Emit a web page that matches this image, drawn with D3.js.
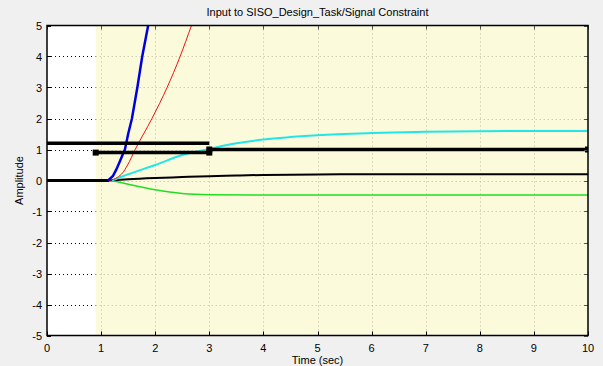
<!DOCTYPE html>
<html>
<head>
<meta charset="utf-8">
<script src="https://cdn.jsdelivr.net/npm/d3@7.9.0/dist/d3.min.js"></script>
<style>
  body { margin: 0; background: #f0f0f0; }
  svg { display: block; font-family: "Liberation Sans", Arial, sans-serif; }
</style>
</head>
<body>
<svg id="chart" width="603" height="366"></svg>
<script>
// data
const xTicks = [0, 1, 2, 3, 4, 5, 6, 7, 8, 9, 10];
const yTicks = [-5, -4, -3, -2, -1, 0, 1, 2, 3, 4, 5];

const blueT = [1.13, 1.22, 1.28, 1.33, 1.39, 1.44, 1.5, 1.57, 1.67, 1.76, 1.87];
const blueY = [0, 0.15, 0.35, 0.55, 0.8, 1, 1.5, 2, 3, 4, 5];

const redT = [1.15, 1.3, 1.4, 1.49, 1.63, 1.94, 2.22, 2.46, 2.67];
const redY = [0, 0.1, 0.25, 0.5, 1, 2, 3, 4, 5];

const cyanT = [1.2, 1.5, 2, 2.5, 3, 3.5, 4, 5, 6, 7, 8, 10];
const cyanY = [0, 0.2, 0.5, 0.82, 1.02, 1.2, 1.32, 1.46, 1.53, 1.57, 1.59, 1.6];

const greenT = [1.2, 1.5, 2, 2.5, 3, 4, 10];
const greenY = [0, -0.12, -0.3, -0.42, -0.46, -0.47, -0.47];

const blackT = [1.15, 1.5, 2, 2.5, 3, 3.5, 4, 5, 6, 10];
const blackY = [0, 0.04, 0.08, 0.11, 0.14, 0.16, 0.18, 0.195, 0.2, 0.2];

const upperBoundT = [0, 3];
const upperBoundY = [1.2, 1.2];
const lowerBoundT = [[0.9, 3], [3, 10]];
const lowerBoundY = [[0.9, 0.9], [1, 1]];
const regionStart = 0.9;

const svg = d3.select('#chart');
const m = { left: 47, right: 588, top: 25.5, bottom: 335.5 };
const x = d3.scaleLinear().domain([0, 10]).range([m.left, m.right]);
const y = d3.scaleLinear().domain([-5, 5]).range([m.bottom, m.top]);

// backgrounds
svg.append('rect').attr('x', m.left).attr('y', m.top)
  .attr('width', m.right - m.left).attr('height', m.bottom - m.top).attr('fill', '#ffffff');

// dark grid in white part
yTicks.slice(1, -1).forEach(v => {
  svg.append('line').attr('x1', x(0)).attr('x2', x(regionStart))
    .attr('y1', Math.round(y(v)) + 0.5).attr('y2', Math.round(y(v)) + 0.5)
    .attr('stroke', '#000').attr('stroke-width', 1).attr('stroke-dasharray', '1,3');
});

svg.append('rect').attr('x', x(regionStart)).attr('y', m.top)
  .attr('width', x(10) - x(regionStart)).attr('height', m.bottom - m.top).attr('fill', '#fbfbdc');

// light grid in constraint region
xTicks.slice(1, -1).forEach(v => {
  svg.append('line').attr('x1', Math.round(x(v)) + 0.5).attr('x2', Math.round(x(v)) + 0.5)
    .attr('y1', m.top).attr('y2', m.bottom)
    .attr('stroke', '#bdbd9c').attr('stroke-width', 1).attr('stroke-dasharray', '1,3');
});
yTicks.slice(1, -1).forEach(v => {
  svg.append('line').attr('x1', x(regionStart)).attr('x2', x(10))
    .attr('y1', Math.round(y(v)) + 0.5).attr('y2', Math.round(y(v)) + 0.5)
    .attr('stroke', '#bdbd9c').attr('stroke-width', 1).attr('stroke-dasharray', '1,3');
});

const clip = svg.append('clipPath').attr('id', 'clip').append('rect')
  .attr('x', m.left).attr('y', m.top).attr('width', m.right - m.left).attr('height', m.bottom - m.top);
const plot = svg.append('g').attr('clip-path', 'url(#clip)');

const line = d3.line().x(d => x(d[0])).y(d => y(d[1])).curve(d3.curveMonotoneX);
const zip = (a, b) => a.map((t, i) => [t, b[i]]);

function drawLine(ts, ys, color, w, curve) {
  plot.append('path').datum(zip(ts, ys))
    .attr('d', curve === false ? d3.line().x(d => x(d[0])).y(d => y(d[1]))(zip(ts, ys)) : line(zip(ts, ys)))
    .attr('fill', 'none').attr('stroke', color).attr('stroke-width', w)
    .attr('stroke-linejoin', 'round');
}

// baseline before response
drawLine([0, blackT[0]], [0, 0], '#000', 3, false);
drawLine(greenT, greenY, '#22dd22', 1.5);
drawLine(blackT, blackY, '#000', 2);
drawLine(cyanT, cyanY, '#22e6e6', 2);
drawLine(redT, redY, '#ee1111', 1);
drawLine(blueT, blueY, '#0000dd', 2.5, false);

// constraint bounds
drawLine(upperBoundT, upperBoundY, '#000', 3.5, false);
lowerBoundT.forEach((ts, i) => {
  drawLine(ts, lowerBoundY[i], '#000', 3.5, false);
  ts.forEach((t, j) => {
    plot.append('rect').attr('x', x(t) - 3).attr('y', y(lowerBoundY[i][j]) - 3)
      .attr('width', 6).attr('height', 6).attr('fill', '#000');
  });
});

// ticks inside the box
xTicks.forEach(v => {
  const px = Math.round(x(v)) + 0.5;
  svg.append('line').attr('x1', px).attr('x2', px).attr('y1', m.bottom).attr('y2', m.bottom - 4).attr('stroke', '#000');
  svg.append('line').attr('x1', px).attr('x2', px).attr('y1', m.top).attr('y2', m.top + 4).attr('stroke', '#555');
  svg.append('text').attr('x', x(v)).attr('y', m.bottom + 16).attr('text-anchor', 'middle')
    .attr('font-size', 11).attr('fill', '#000').text(v);
});
yTicks.forEach(v => {
  const py = Math.round(y(v)) + 0.5;
  svg.append('line').attr('x1', m.left).attr('x2', m.left + 4).attr('y1', py).attr('y2', py).attr('stroke', '#000');
  svg.append('line').attr('x1', m.right).attr('x2', m.right - 4).attr('y1', py).attr('y2', py).attr('stroke', '#555');
  svg.append('text').attr('x', m.left - 5).attr('y', y(v) + 4).attr('text-anchor', 'end')
    .attr('font-size', 11).attr('fill', '#000').text(v);
});

// box
svg.append('rect').attr('x', m.left).attr('y', m.top)
  .attr('width', m.right - m.left).attr('height', m.bottom - m.top)
  .attr('fill', 'none').attr('stroke', '#000').attr('stroke-width', 1.5);

// labels
svg.append('text').attr('x', (m.left + m.right) / 2).attr('y', 16).attr('text-anchor', 'middle')
  .attr('font-size', 11).attr('fill', '#000').text('Input to SISO_Design_Task/Signal Constraint');
svg.append('text').attr('x', (m.left + m.right) / 2).attr('y', 364).attr('text-anchor', 'middle')
  .attr('font-size', 11).attr('fill', '#000').text('Time (sec)');
svg.append('text').attr('transform', `translate(23,${(m.top + m.bottom) / 2}) rotate(-90)`)
  .attr('text-anchor', 'middle').attr('font-size', 11).attr('fill', '#000').text('Amplitude');
</script>
</body>
</html>
